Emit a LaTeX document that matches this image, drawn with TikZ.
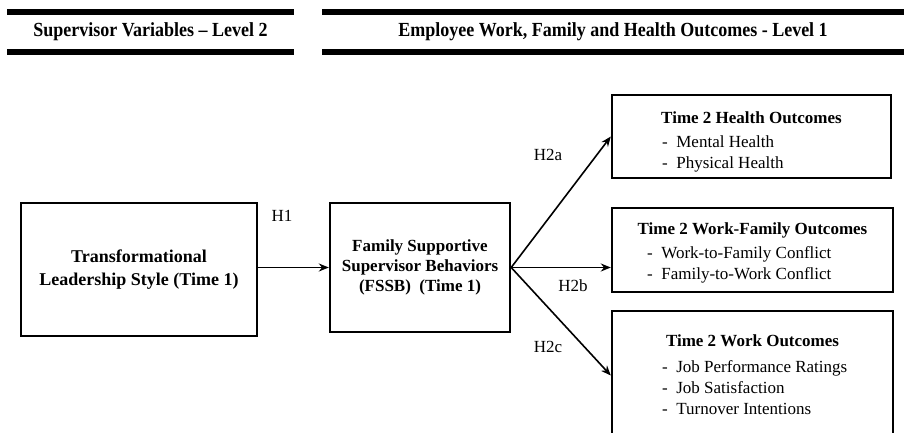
\documentclass[tikz,border=0pt]{standalone}
\usepackage{fontspec}
\setmainfont{Liberation Serif}
\newfontfamily\headfont{Liberation Serif}[FakeStretch=0.9]
\usetikzlibrary{arrows.meta,calc,positioning}

\tikzset{
  bar/.style={line width=6pt},
  headtxt/.style={font=\headfont\fontsize{20}{24}\selectfont\bfseries},
  box/.style={draw, line width=2.4pt, inner sep=0pt, align=center},
  titletxt/.style={font=\fontsize{17}{20}\selectfont\bfseries},
  itemtxt/.style={font=\fontsize{17}{21}\selectfont, align=left, anchor=north west, inner sep=0pt},
  hyp/.style={font=\fontsize{17}{20}\selectfont},
  link/.style={line width=1.6pt, -{Stealth[length=10pt,width=8pt]}}
}

\begin{document}
\begin{tikzpicture}[x=1pt,y=-1pt]
  \useasboundingbox (0,0) rectangle (904,433);

  % level headings
  \node[headtxt] (lvl2) at (150.5,32) {Supervisor Variables \textendash{} Level 2};
  \node[headtxt] (lvl1) at (613,32) {Employee Work, Family and Health Outcomes - Level 1};
  \draw[bar] (7,12) -- (294,12);
  \draw[bar] (7,52) -- (294,52);
  \draw[bar] (322,12) -- (904,12);
  \draw[bar] (322,52) -- (904,52);

  % supervisor level
  \node[box, minimum width=236pt, minimum height=133pt,
        font=\fontsize{18}{23}\selectfont\bfseries] (tfl) at (139,269.5)
        {Transformational\\Leadership Style (Time 1)};
  \node[box, minimum width=180pt, minimum height=129pt,
        font=\fontsize{17}{20}\selectfont\bfseries] (fssb) at (420,267.5)
        {Family Supportive\\Supervisor Behaviors\\(FSSB)\ \ (Time 1)};

  % outcomes
  \node[box, minimum width=279pt, minimum height=83pt] (health) at (751.5,136.5) {};
  \node[titletxt, below=14pt of health.north] (healthT) {Time 2 Health Outcomes};
  \node[itemtxt] (healthL) at (662,136) {-\ \ Mental Health\\-\ \ Physical Health};

  \node[box, minimum width=281pt, minimum height=84pt] (wf) at (752.5,250) {};
  \node[titletxt, below=12pt of wf.north] (wfT) {Time 2 Work-Family Outcomes};
  \node[itemtxt] (wfL) at (647,246) {-\ \ Work-to-Family Conflict\\-\ \ Family-to-Work Conflict};

  \node[box, minimum width=281pt, minimum height=129pt] (work) at (752.5,375.5) {};
  \node[titletxt, below=21pt of work.north] (workT) {Time 2 Work Outcomes};
  \node[itemtxt] (workL) at (662,360) {-\ \ Job Performance Ratings\\-\ \ Job Satisfaction\\-\ \ Turnover Intentions};

  % hypotheses
  \draw[link] (fssb.west -| tfl.east) -- (fssb.west);
  \draw[link] (fssb.east) -- (health.west);
  \draw[link] (fssb.east) -- (fssb.east -| wf.west);
  \draw[link] (fssb.east) -- (work.west);

  \node[hyp] (h1) at (282,216) {H1};
  \node[hyp] (h2a) at (548,155) {H2a};
  \node[hyp] (h2b) at (573,286) {H2b};
  \node[hyp] (h2c) at (548,347) {H2c};
\end{tikzpicture}
\end{document}
